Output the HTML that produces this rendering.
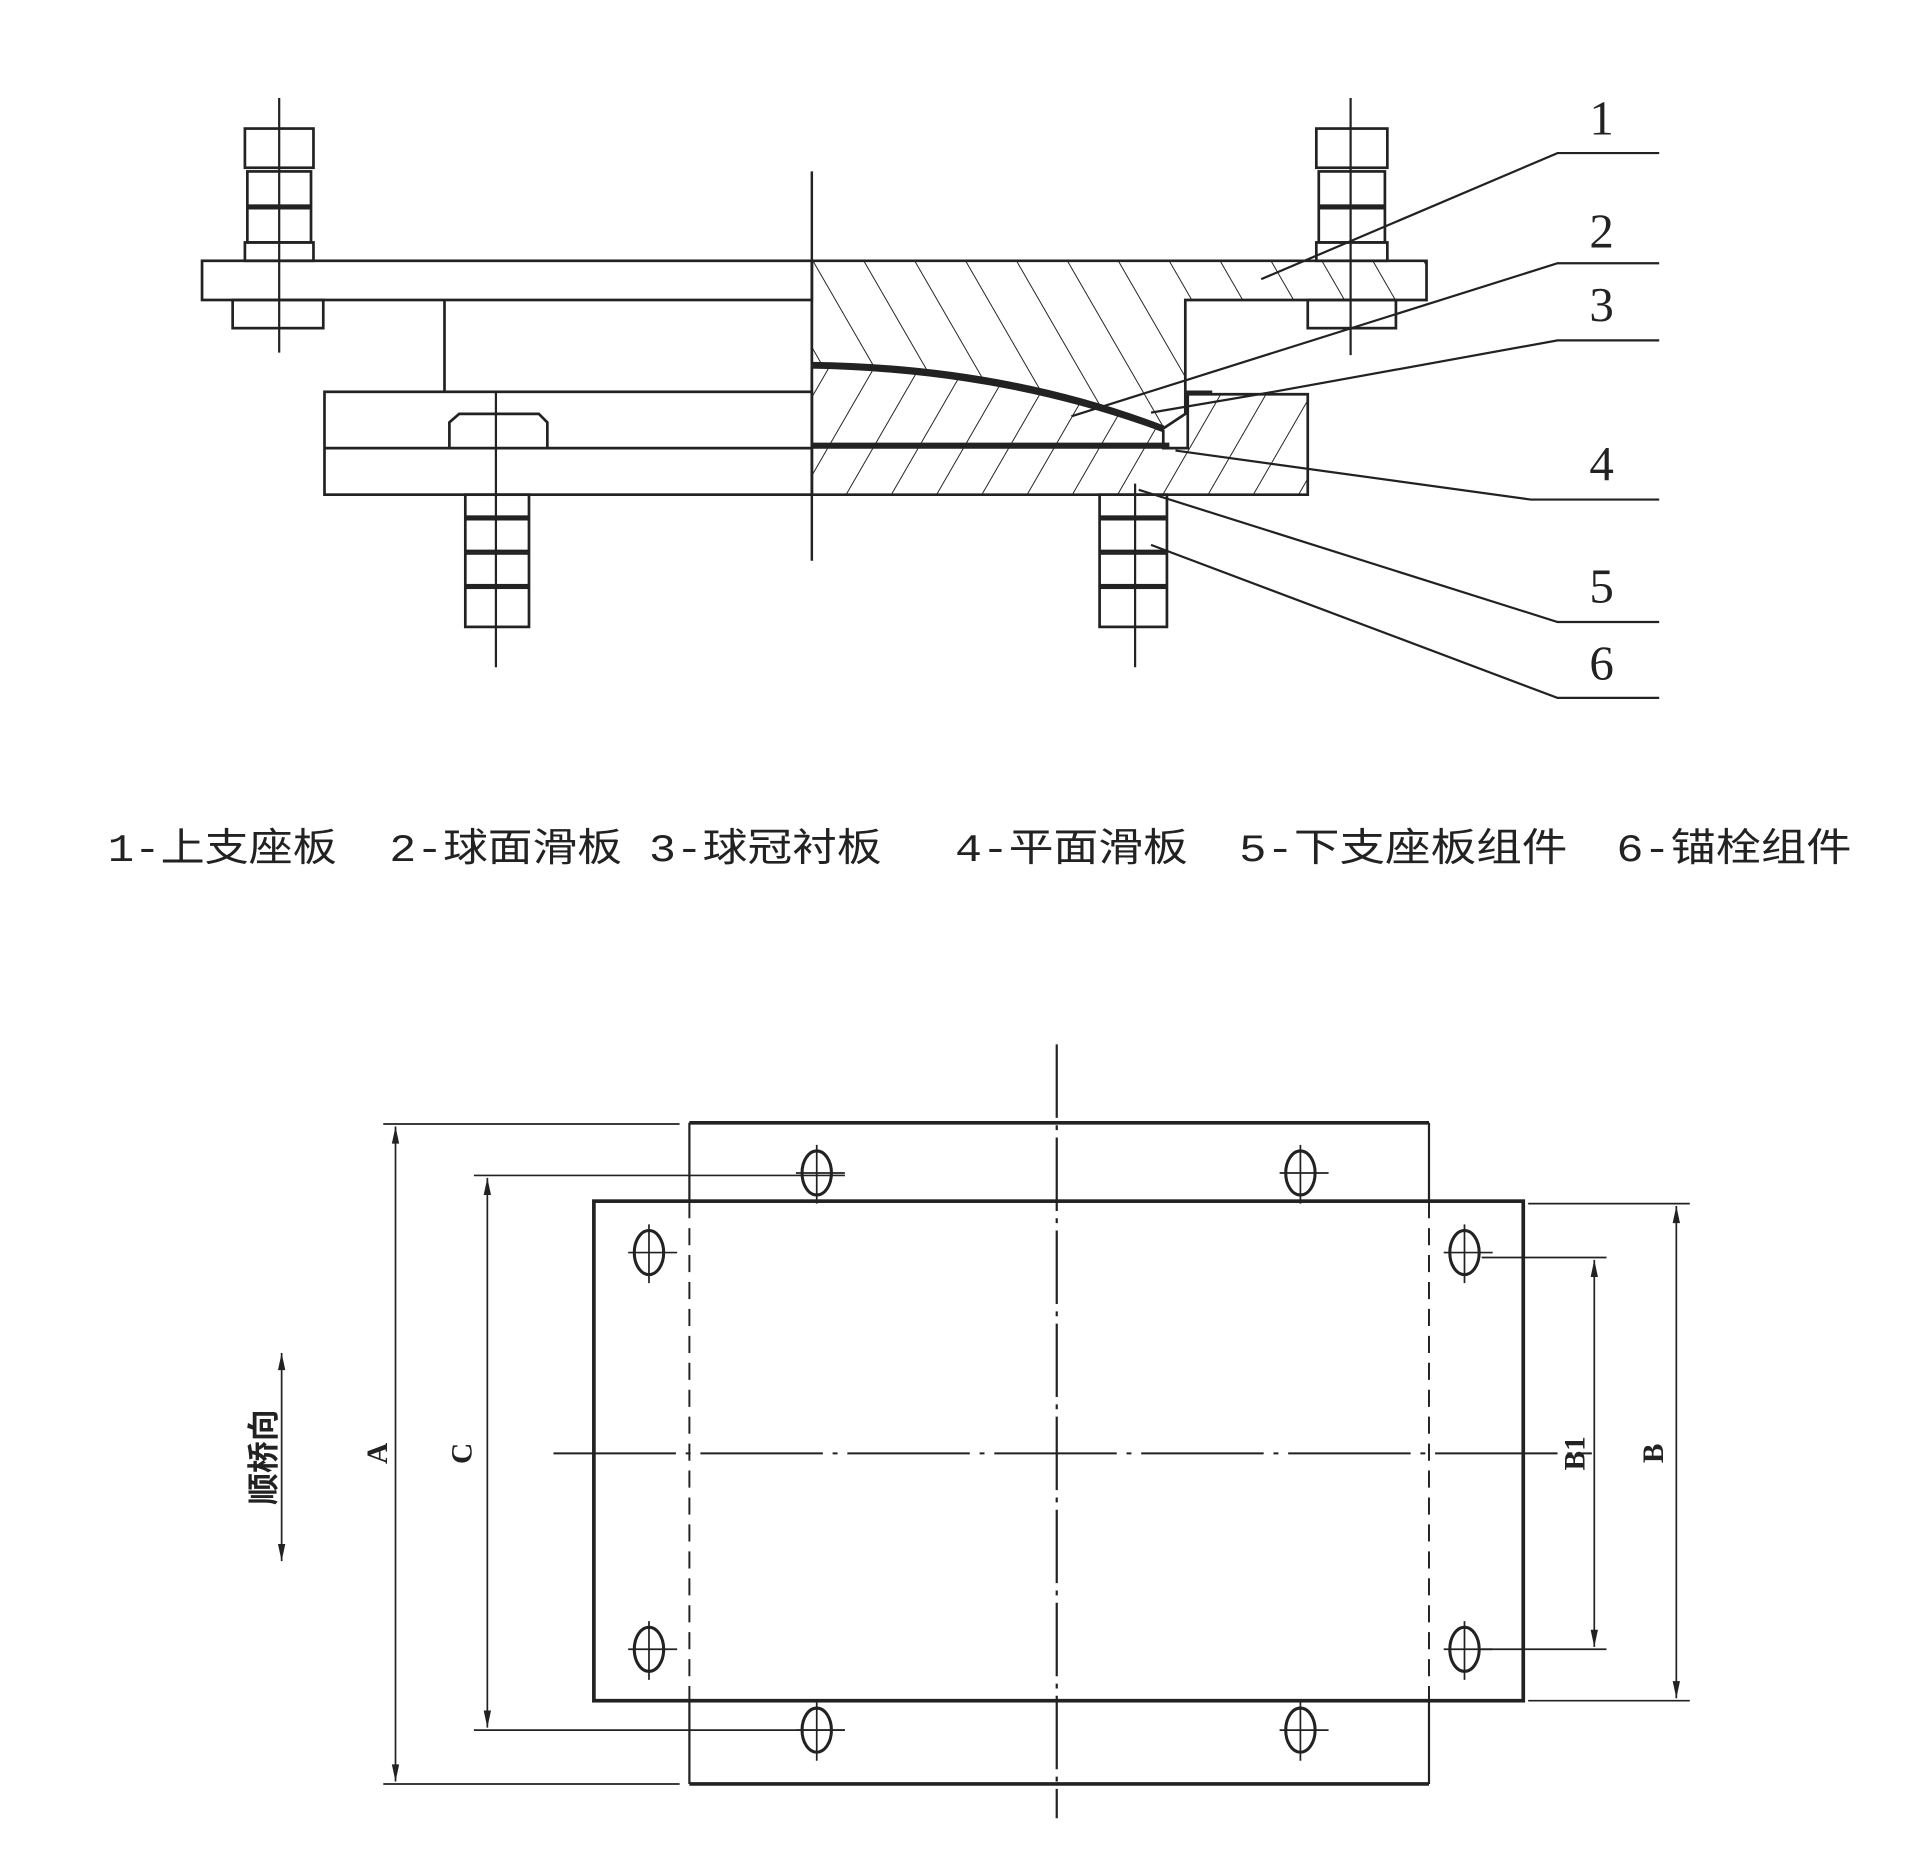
<!DOCTYPE html>
<html><head><meta charset="utf-8"><style>
html,body{margin:0;padding:0;background:#fff;}
svg{display:block}
</style></head><body>
<svg width="1920" height="1866" viewBox="0 0 1568 1524" preserveAspectRatio="none" xmlns="http://www.w3.org/2000/svg">
<defs>
<pattern id="h1" patternUnits="userSpaceOnUse" width="36" height="36" patternTransform="rotate(-30)">
<line x1="0" y1="0" x2="0" y2="36" stroke="#222" stroke-width="1.6"/></pattern>
<pattern id="h2" patternUnits="userSpaceOnUse" width="32" height="32" patternTransform="rotate(30)">
<line x1="0" y1="0" x2="0" y2="32" stroke="#222" stroke-width="1.6"/></pattern>
</defs>
<rect width="1568" height="1524" fill="#fff"/>
<g fill="none" stroke="#222" stroke-width="2.2">
<rect x="165" y="213" width="498" height="32"/>
<path d="M663,213 L1165,213 L1165,245 L968,245 L968,338 L950,350 Q820,300 663,297 Z" fill="url(#h1)"/>
<line x1="363" y1="245" x2="363" y2="320"/>
<rect x="265" y="320" width="398" height="84"/>
<line x1="265" y1="366" x2="663" y2="366"/>
<path d="M663,300 Q820,303 950,352 L950,366 L970,366 L970,322 L1068,322 L1068,404 L663,404 Z" fill="url(#h2)"/>
<path d="M663,298 Q820,300 950,350" stroke-width="5"/>
<line x1="663" y1="364" x2="955" y2="364" stroke-width="5"/>
<line x1="968" y1="320" x2="990" y2="320"/>
<line x1="663" y1="140" x2="663" y2="458" stroke-width="2"/>
<line x1="228" y1="80" x2="228" y2="288" stroke-width="1.8"/>
<rect x="200" y="105" width="56" height="32"/><rect x="202" y="140" width="52" height="28"/><rect x="202" y="170" width="52" height="28"/><rect x="200" y="198" width="56" height="15"/>
<rect x="190" y="245" width="74" height="23"/>
<line x1="1103" y1="80" x2="1103" y2="290" stroke-width="1.8"/>
<rect x="1075" y="105" width="58" height="32"/><rect x="1077" y="140" width="54" height="28"/><rect x="1077" y="170" width="54" height="28"/><rect x="1075" y="198" width="58" height="15"/>
<rect x="1068" y="245" width="72" height="23"/>
<line x1="405" y1="320" x2="405" y2="545" stroke-width="1.8"/>
<path d="M367,366 L367,345 L375,338 L440,338 L447,345 L447,366"/>
<rect x="380" y="404" width="52" height="18"/><rect x="380" y="424" width="52" height="26"/><rect x="380" y="452" width="52" height="26"/><rect x="380" y="480" width="52" height="32"/>
<line x1="927" y1="395" x2="927" y2="545" stroke-width="1.8"/>
<rect x="898" y="404" width="55" height="18"/><rect x="898" y="424" width="55" height="26"/><rect x="898" y="452" width="55" height="26"/><rect x="898" y="480" width="55" height="32"/>
<g stroke-width="1.8">
<path d="M1355,125 L1272,125 L1030,228"/>
<path d="M1355,215 L1272,215 L875,340"/>
<path d="M1355,278 L1272,278 L1040,320 L940,337"/>
<path d="M1355,408 L1250,408 L960,368"/>
<path d="M1355,508 L1272,508 L930,400"/>
<path d="M1355,570 L1272,570 L940,445"/>
</g>
</g>
<g font-family="Liberation Serif, serif" font-size="40" fill="#222" text-anchor="middle">
<text x="1308" y="110">1</text><text x="1308" y="202">2</text><text x="1308" y="262">3</text>
<text x="1308" y="392">4</text><text x="1308" y="492">5</text><text x="1308" y="555">6</text>
</g>
<g font-family="Liberation Mono, 'Noto Sans CJK SC', sans-serif" font-size="32" fill="#222" lengthAdjust="spacingAndGlyphs">
<text x="88" y="703" textLength="187" lengthAdjust="spacingAndGlyphs">1-上支座板</text>
<text x="318" y="703" textLength="190" lengthAdjust="spacingAndGlyphs">2-球面滑板</text>
<text x="530" y="703" textLength="190" lengthAdjust="spacingAndGlyphs">3-球冠衬板</text>
<text x="780" y="703" textLength="190" lengthAdjust="spacingAndGlyphs">4-平面滑板</text>
<text x="1012" y="703" textLength="268" lengthAdjust="spacingAndGlyphs">5-下支座板组件</text>
<text x="1320" y="703" textLength="192" lengthAdjust="spacingAndGlyphs">6-锚栓组件</text>
</g>
<g fill="none" stroke="#222" stroke-width="2.2">
<line x1="563" y1="917" x2="1167" y2="917" stroke-width="3"/>
<line x1="563" y1="1457" x2="1167" y2="1457" stroke-width="3"/>
<path d="M563,917 L563,981 M563,1389 L563,1457 M1167,917 L1167,981 M1167,1389 L1167,1457" stroke-width="1.8"/>
<path d="M563,981 L563,1389 M1167,981 L1167,1389" stroke-dasharray="14,8" stroke-width="1.6"/>
<rect x="485" y="981" width="759" height="408" stroke-width="3"/>
<line x1="863" y1="853" x2="863" y2="1485" stroke-dasharray="60,6,4,6" stroke-width="1.8"/>
<line x1="452" y1="1187" x2="1300" y2="1187" stroke-dasharray="100,8,4,8" stroke-width="1.6"/>
<g stroke-width="2.5">
<ellipse cx="667" cy="958" rx="12" ry="18"/><ellipse cx="1062" cy="958" rx="12" ry="18"/>
<ellipse cx="530" cy="1023" rx="12" ry="18"/><ellipse cx="1196" cy="1023" rx="12" ry="18"/>
<ellipse cx="530" cy="1347" rx="12" ry="18"/><ellipse cx="1196" cy="1347" rx="12" ry="18"/>
<ellipse cx="667" cy="1413" rx="12" ry="18"/><ellipse cx="1062" cy="1413" rx="12" ry="18"/>
</g>
<g stroke-width="1.4">
<path d="M667,935 V983 M650,958 H690 M1062,935 V983 M1045,958 H1085"/>
<path d="M530,1000 V1048 M513,1023 H553 M1196,1000 V1048 M1179,1023 H1219"/>
<path d="M530,1324 V1372 M513,1347 H553 M1196,1324 V1372 M1179,1347 H1219"/>
<path d="M667,1390 V1438 M650,1413 H690 M1062,1390 V1438 M1045,1413 H1085"/>
<path d="M313,918 H555 M313,1457 H555 M323,920 V1455"/>
<path d="M387,960 H690 M387,1413 H690 M398,962 V1411"/>
<path d="M1248,983 H1380 M1248,1389 H1380 M1369,985 V1387"/>
<path d="M1210,1027 H1312 M1210,1347 H1312 M1302,1029 V1345"/>
<path d="M230,1105 V1275"/>
</g>
</g>
<g fill="#222">
<path d="M323,920 l-3,14 h6z M323,1455 l-3,-14 h6z M398,962 l-3,14 h6z M398,1411 l-3,-14 h6z M1369,985 l-3,14 h6z M1369,1387 l-3,-14 h6z M1302,1029 l-3,14 h6z M1302,1345 l-3,-14 h6z M230,1105 l-3,14 h6z M230,1275 l-3,-14 h6z"/>
</g>
<g font-family="Liberation Serif, 'Noto Serif CJK SC', serif" font-weight="bold" font-size="24" fill="#222" text-anchor="middle">
<text transform="translate(316,1187) rotate(-90)">A</text>
<text transform="translate(385,1187) rotate(-90)">C</text>
<text transform="translate(1294,1187) rotate(-90)">B1</text>
<text transform="translate(1358,1187) rotate(-90)">B</text>
<text transform="translate(224,1190) rotate(-90)" font-size="26" font-family="'Noto Sans CJK SC', sans-serif">顺桥向</text>
</g>
</svg>
</body></html>
